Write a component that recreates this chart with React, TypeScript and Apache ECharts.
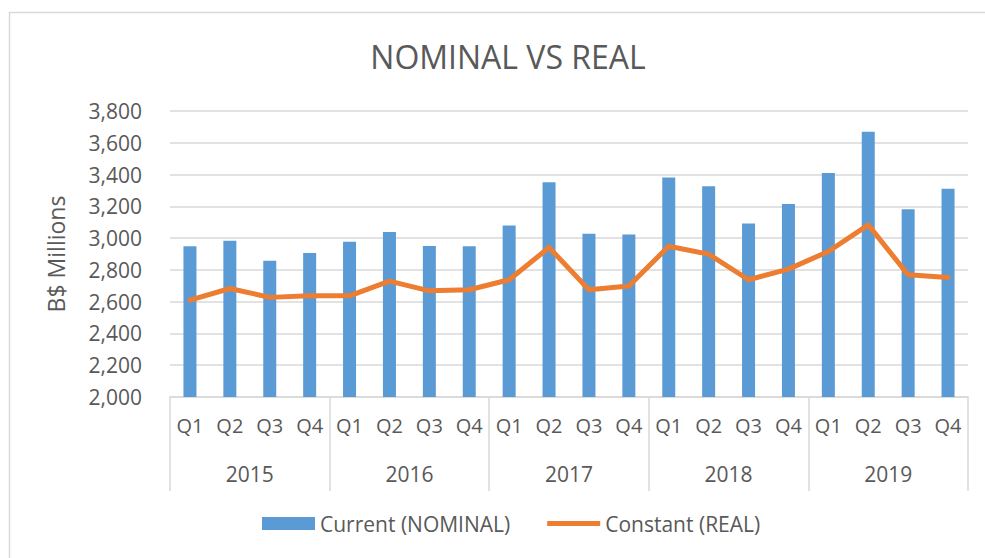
import React, { useEffect, useRef } from "react";
import * as echarts from "echarts";

const quarters = [
  "Q1", "Q2", "Q3", "Q4", "Q1", "Q2", "Q3", "Q4", "Q1", "Q2",
  "Q3", "Q4", "Q1", "Q2", "Q3", "Q4", "Q1", "Q2", "Q3", "Q4",
];
const years = ["2015", "2016", "2017", "2018", "2019"];
const nominal = [
  2949, 2983, 2857, 2907, 2977, 3039, 2951, 2949, 3079, 3352,
  3027, 3023, 3381, 3326, 3092, 3215, 3410, 3670, 3182, 3310,
];
const real = [
  2610, 2683, 2627, 2637, 2637, 2729, 2668, 2675, 2738, 2941,
  2675, 2698, 2949, 2899, 2738, 2805, 2916, 3083, 2769, 2752,
];
const yTicks = { min: 2000, max: 3800, interval: 200 };

const FONT = "'Open Sans', sans-serif";
const TXT = "#595959";
const GRID = "#d9d9d9";

export default function App() {
  const ref = useRef<HTMLDivElement>(null);
  useEffect(() => {
    if (!ref.current) return;
    const chart = echarts.init(ref.current, undefined, { renderer: "svg" });
    chart.setOption({
      animation: false,
      backgroundColor: "#ffffff",
      textStyle: { fontFamily: FONT, color: TXT },
      title: {
        text: "NOMINAL VS REAL",
        left: 503,
        textAlign: "center",
        top: 35,
        textStyle: { fontFamily: FONT, fontSize: 32, fontWeight: "normal", color: TXT },
      },
      graphic: [
        {
          type: "rect",
          shape: { x: 9.5, y: 12.5, width: 1000, height: 600 },
          style: { fill: "none", stroke: GRID, lineWidth: 1.5 },
          silent: true,
          z: -1,
        },
      ],
      legend: {
        bottom: 19,
        left: 257,
        itemWidth: 53,
        itemHeight: 13,
        itemGap: 37,
        textStyle: { fontFamily: FONT, fontSize: 21, color: TXT },
        data: [
          { name: "Current (NOMINAL)", icon: "rect" },
          { name: "Constant (REAL)", icon: "path://M0,0L53,0L53,5L0,5Z" },
        ],
      },
      grid: { left: 170, right: 17, top: 111, bottom: 161, containLabel: false },
      xAxis: [
        {
          type: "category",
          data: quarters,
          position: "bottom",
          axisLine: { lineStyle: { color: GRID, width: 1.5 } },
          axisTick: { show: false },
          axisLabel: { fontFamily: FONT, fontSize: 20, color: TXT, margin: 18, interval: 0 },
        },
        {
          type: "category",
          data: years,
          position: "bottom",
          axisLine: { show: false },
          axisTick: { show: true, length: 94, lineStyle: { color: GRID, width: 1.5 } },
          axisLabel: { fontFamily: FONT, fontSize: 21, color: TXT, margin: 66, interval: 0 },
        },
      ],
      yAxis: {
        type: "value",
        min: yTicks.min,
        max: yTicks.max,
        interval: yTicks.interval,
        name: "B$ Millions",
        nameLocation: "middle",
        nameGap: 103,
        nameTextStyle: { fontFamily: FONT, fontSize: 23, color: TXT },
        axisLine: { show: false },
        axisTick: { show: false },
        axisLabel: {
          fontFamily: FONT,
          fontSize: 21,
          color: TXT,
          margin: 28,
          formatter: (v: number) => v.toLocaleString("en-US"),
        },
        splitLine: { lineStyle: { color: GRID, width: 1.5 } },
      },
      series: [
        {
          name: "Current (NOMINAL)",
          type: "bar",
          data: nominal,
          barWidth: 13,
          itemStyle: { color: "#5b9bd5" },
        },
        {
          name: "Constant (REAL)",
          type: "line",
          data: real,
          symbol: "none",
          lineStyle: { color: "#ed7d31", width: 5, join: "round", cap: "round" },
          itemStyle: { color: "#ed7d31" },
        },
      ],
    });
    return () => chart.dispose();
  }, []);
  return (
    <div
      ref={ref}
      style={{ position: "absolute", left: 0, top: 0, width: 985, height: 558 }}
    />
  );
}
